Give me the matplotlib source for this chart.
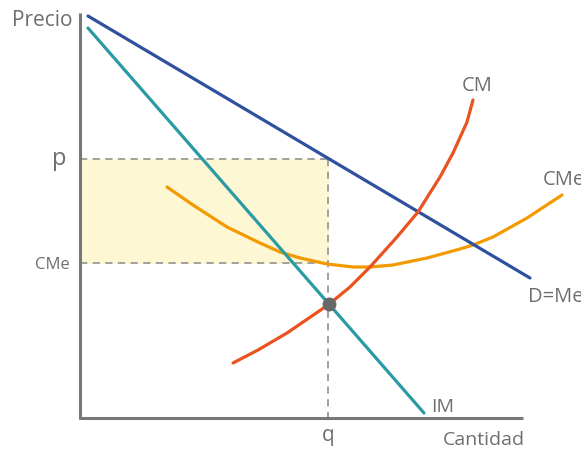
import matplotlib
matplotlib.use('Agg')
import matplotlib.pyplot as plt

# Esquema de monopolio: coordenadas (x a la derecha, y hacia abajo)
demanda_x = [88, 530]
demanda_y = [16, 278]

im_x = [88, 424]
im_y = [28, 413]

cm_x = [233, 258, 287, 328, 350, 370, 397, 418, 440, 453, 467, 473]
cm_y = [363, 350, 333, 305, 287, 267, 237, 212, 177, 153, 122, 100]

cme_x = [167, 193, 227, 260, 280, 300, 327, 353, 370, 393, 427, 460, 473, 493, 527, 562]
cme_y = [187, 205, 227, 243, 252, 258, 264, 267, 267, 265, 258, 249, 245, 237, 218, 195]

p_nivel = 159
cme_nivel = 263
q_nivel = 328
punto_x, punto_y = 329, 304

plt.rcParams['font.family'] = ['Open Sans', 'DejaVu Sans']
fig = plt.figure(figsize=(5.81, 4.50), dpi=100)
ax = fig.add_axes([0, 0, 1, 1])
ax.set_xlim(0, 581)
ax.set_ylim(450, 0)
ax.axis('off')

gris = '#6e6e6e'
estilo = dict(lw=2.3, solid_capstyle='round', solid_joinstyle='round')

# rectángulo de beneficio
ax.fill_between([80, q_nivel], p_nivel, cme_nivel, color='#fdf7d4', zorder=0)

# líneas guía
guia = dict(ls=(0, (4, 3)), color='#999999', lw=1.3, zorder=1)
ax.plot([80, q_nivel], [p_nivel, p_nivel], **guia)
ax.plot([80, q_nivel], [cme_nivel, cme_nivel], **guia)
ax.plot([q_nivel, q_nivel], [p_nivel, 418], **guia)

# ejes
ax.plot([80, 80], [13, 419], color='#777777', lw=2.2, solid_capstyle='butt')
ax.plot([79, 523], [418, 418], color='#777777', lw=2.2, solid_capstyle='butt')

# curvas
ax.plot(cme_x, cme_y, color='#f39a00', zorder=3, **estilo)
ax.plot(demanda_x, demanda_y, color='#2f4f9f', zorder=3, **estilo)
ax.plot(cm_x, cm_y, color='#e9531f', zorder=3, **estilo)
ax.plot(im_x, im_y, color='#2a9aa5', zorder=4, **estilo)
ax.plot([punto_x], [punto_y], 'o', color='#686868', ms=9, zorder=5)

# textos (CMe y D=Me quedan cortados en el borde, como en el original)
ax.text(72, 21, 'Precio', ha='right', va='center', fontsize=15, color=gris)
ax.text(66, 159, 'p', ha='right', va='center', fontsize=17, color=gris)
ax.text(70, 265, 'CMe', ha='right', va='center', fontsize=12, color=gris)
ax.text(q_nivel, 436, 'q', ha='center', va='center', fontsize=15, color=gris)
ax.text(443, 440, 'Cantidad', ha='left', va='center', fontsize=14, color=gris)
ax.text(431, 407, 'IM', ha='left', va='center', fontsize=14, color=gris)
ax.text(462, 86, 'CM', ha='left', va='center', fontsize=14.5, color=gris)
ax.text(543, 180, 'CMe', ha='left', va='center', fontsize=14.5, color=gris)
ax.text(528, 297, 'D=Me', ha='left', va='center', fontsize=14.5, color=gris)

fig.savefig('out.png', dpi=100)
